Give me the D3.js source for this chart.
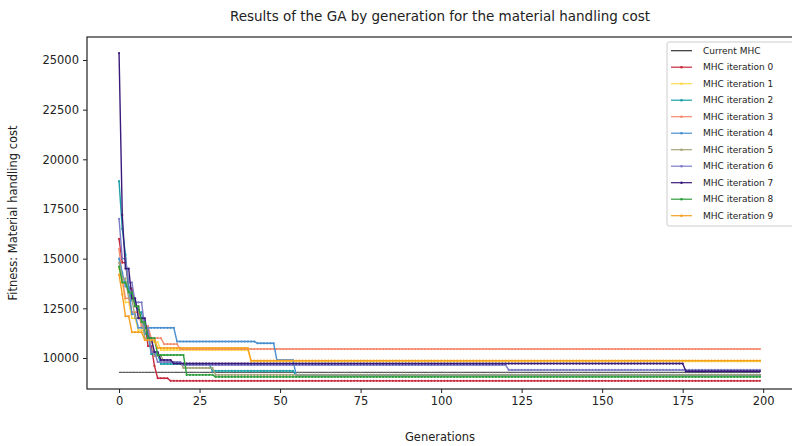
<!DOCTYPE html>
<html><head><meta charset="utf-8">
<script src="https://cdn.jsdelivr.net/npm/d3@7"></script>
<style>body{margin:0;background:#fff}svg{display:block}text{font-family:"DejaVu Sans",sans-serif}</style>
</head><body>
<svg id="c" width="792" height="446"></svg>
<script>
// Number of generations
const generations = 200;
// Series names
const seriesNames = ["Current MHC","MHC iteration 0","MHC iteration 1","MHC iteration 2","MHC iteration 3","MHC iteration 4","MHC iteration 5","MHC iteration 6","MHC iteration 7","MHC iteration 8","MHC iteration 9"];
// Best fitness change points: [generation, value]; value holds until next change
const currentMHC = [[0,9280]];
const iter0 = [[0,16000],[1,14800],[3,13500],[5,12600],[7,11800],[9,10600],[11,9600],[12,8980],[16,8850]];
const iter1 = [[0,14500],[1,13800],[2,12800],[4,12000],[6,11400],[10,10800],[13,10400],[41,9830]];
const iter2 = [[0,18900],[1,16500],[2,15200],[3,13400],[4,12900],[6,12300],[8,11200],[10,10200],[13,9700],[29,9350],[55,9120]];
const iter3 = [[0,15500],[1,14000],[2,13000],[4,12300],[7,11600],[10,11000],[14,10700],[19,10450]];
const iter4 = [[0,15000],[1,14300],[2,13600],[4,12200],[6,11520],[18,10830],[43,10740],[49,9900],[55,9150]];
const iter5 = [[0,14800],[1,14000],[3,13000],[5,12000],[8,11000],[11,10100],[14,9800],[20,9500],[30,9150]];
const iter6 = [[0,17000],[1,15000],[3,13800],[5,12800],[8,11500],[10,10300],[12,9800],[20,9650],[121,9400]];
const iter7 = [[0,25350],[1,17200],[2,14500],[4,13000],[6,12000],[9,11000],[11,10300],[13,9900],[17,9720],[176,9330]];
const iter8 = [[0,14600],[1,13800],[3,13300],[5,12600],[7,11800],[9,11000],[12,10150],[21,9150],[30,9050]];
const iter9 = [[0,14200],[1,13200],[2,12100],[4,11300],[8,10900],[12,10500],[41,9870]];
const xTicks = [0,25,50,75,100,125,150,175,200];
const yTicks = [10000,12500,15000,17500,20000,22500,25000];
const colors = ["#333333","#c8283e","#ffd84a","#1a9fa8","#f48a6c","#4a8fd0","#a4a47a","#7c7cc8","#3a1a7a","#2e9e3e","#f5a020"];

const allSeries = [currentMHC,iter0,iter1,iter2,iter3,iter4,iter5,iter6,iter7,iter8,iter9];
// expand change points to a value per generation (value carried forward)
function expand(cp){
  const out=[]; let k=0;
  for(let g=0; g<generations; g++){
    while(k+1<cp.length && cp[k+1][0]<=g) k++;
    out.push([g, cp[k][1]]);
  }
  return out;
}

const svg = d3.select("#c");
const m = {l:87, r:792, t:37, b:389};
const x = d3.scaleLinear().domain([-9.95, 208.95]).range([m.l, m.r]);
const y = d3.scaleLinear().domain([8440, 26157]).range([m.b, m.t]);

const gx = svg.append("g").attr("transform",`translate(0,${m.b})`)
  .call(d3.axisBottom(x).tickValues(xTicks).tickSize(4).tickPadding(4).tickFormat(d3.format("d")));
const gy = svg.append("g").attr("transform",`translate(${m.l},0)`)
  .call(d3.axisLeft(y).tickValues(yTicks).tickSize(4).tickPadding(4).tickFormat(d3.format("d")));
[gx,gy].forEach(g=>{g.select(".domain").remove(); g.selectAll("text").attr("font-size",11.5).attr("fill","#222"); g.selectAll("line").attr("stroke","#222");});

const plot = svg.append("g");
const line = d3.line().x(d=>x(d[0])).y(d=>y(d[1]));
allSeries.forEach((cp,i)=>{
  const pts = expand(cp);
  plot.append("path").datum(pts).attr("d",line).attr("fill","none")
    .attr("stroke",colors[i]).attr("stroke-width", i===0?1:1.4);
  if(i>0){
    plot.append("g").selectAll("circle").data(pts).join("circle")
      .attr("cx",d=>x(d[0])).attr("cy",d=>y(d[1])).attr("r",1.1).attr("fill",colors[i]);
  }
});

// frame
svg.append("rect").attr("x",m.l).attr("y",m.t).attr("width",m.r-m.l+2).attr("height",m.b-m.t)
  .attr("fill","none").attr("stroke","#222").attr("stroke-width",1.2);

// title and labels
svg.append("text").attr("x",440).attr("y",21).attr("text-anchor","middle").attr("font-size",13.5).attr("fill","#222")
  .text("Results of the GA by generation for the material handling cost");
svg.append("text").attr("x",440).attr("y",441).attr("text-anchor","middle").attr("font-size",11.5).attr("fill","#222").text("Generations");
svg.append("text").attr("transform","translate(17,213) rotate(-90)").attr("text-anchor","middle").attr("font-size",11.5).attr("fill","#222")
  .text("Fitness: Material handling cost");

// legend
const lg = svg.append("g");
lg.append("rect").attr("x",667).attr("y",42).attr("width",130).attr("height",184).attr("rx",2)
  .attr("fill","#fff").attr("fill-opacity",0.85).attr("stroke","#ccc");
seriesNames.forEach((n,i)=>{
  const yy = 50.7 + i*16.5;
  lg.append("line").attr("x1",671).attr("x2",692).attr("y1",yy).attr("y2",yy).attr("stroke",colors[i]).attr("stroke-width",1.2);
  if(i>0) lg.append("circle").attr("cx",681.5).attr("cy",yy).attr("r",1.3).attr("fill",colors[i]);
  lg.append("text").attr("x",703).attr("y",yy+3.2).attr("font-size",9).attr("fill","#222").text(n);
});
</script>
</body></html>
